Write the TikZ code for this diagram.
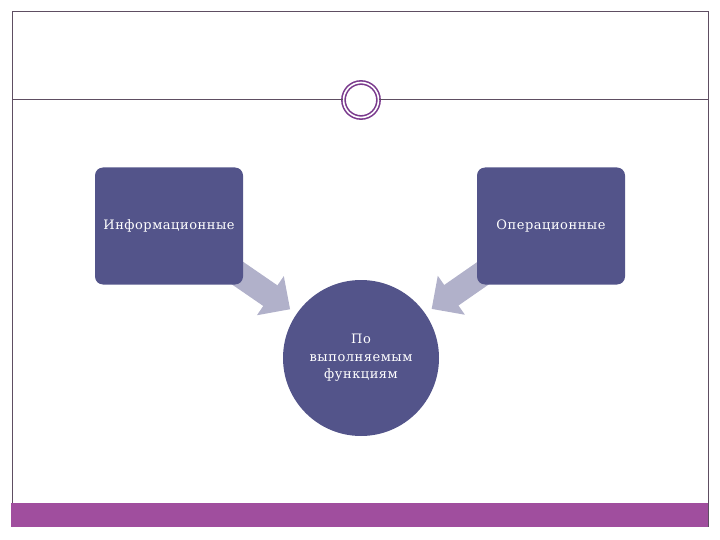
\documentclass[tikz,border=0pt]{standalone}
\usepackage{fontspec}
\setmainfont{Liberation Serif}
\newfontfamily\slidefont{DejaVu Serif}[LetterSpace=4]
\usetikzlibrary{arrows.meta, positioning, calc, backgrounds}
\definecolor{boxblue}{HTML}{53548A}
\definecolor{arrowgray}{HTML}{B1B1CA}
\definecolor{barpurple}{HTML}{A04E9E}
\definecolor{framegray}{HTML}{5E4E62}
\definecolor{ringpurple}{HTML}{7B3B8E}
\tikzset{
  kindbox/.style={
    rectangle, rounded corners=8pt,
    minimum width=148pt, minimum height=117pt,
    text centered, align=center, fill=boxblue, text=white,
    font=\slidefont\fontsize{13}{15}\selectfont
  },
  mainround/.style={
    circle, minimum size=156pt, inner sep=0pt,
    text centered, align=center, fill=boxblue, text=white,
    font=\slidefont\fontsize{13}{17.5}\selectfont
  },
  blockarrow/.style={line width=25pt, draw=arrowgray,
    -{Triangle[length=24pt, width=46pt]}},
  frameline/.style={draw=framegray, line width=1pt},
}

\begin{document}
\begin{tikzpicture}[x=1pt, y=-1pt]
\useasboundingbox (0,0) rectangle (720,540);

% --- Slide frame ---
\draw[frameline] (12,527) -- (12,12) -- (708,12) -- (708,527);
\coordinate (lineL) at (12,100);
\coordinate (lineR) at (708,100);
\node[circle, minimum size=35pt, inner sep=0pt, draw=ringpurple, double=white,
  double distance=1.6pt, line width=1.6pt] (ring) at (361,100) {};
\draw[frameline] (lineL) -- (ring.west);
\draw[frameline] (ring.east) -- (lineR);
\fill[barpurple] (11,503) rectangle (708,527);

% --- Nodes ---
\node[kindbox] (info) at (169,226) {Информационные};
\node[kindbox] (oper) at (551,226) {Операционные};
\node[mainround] (func) at (361,358) {По\\выполняемым\\функциям};

% --- Arrows (behind the boxes) ---
\begin{pgfonlayer}{background}
\draw[blockarrow, shorten >=86pt] (info.center) -- (func.center);
\draw[blockarrow, shorten >=86pt] (oper.center) -- (func.center);
\end{pgfonlayer}

\end{tikzpicture}
\end{document}
